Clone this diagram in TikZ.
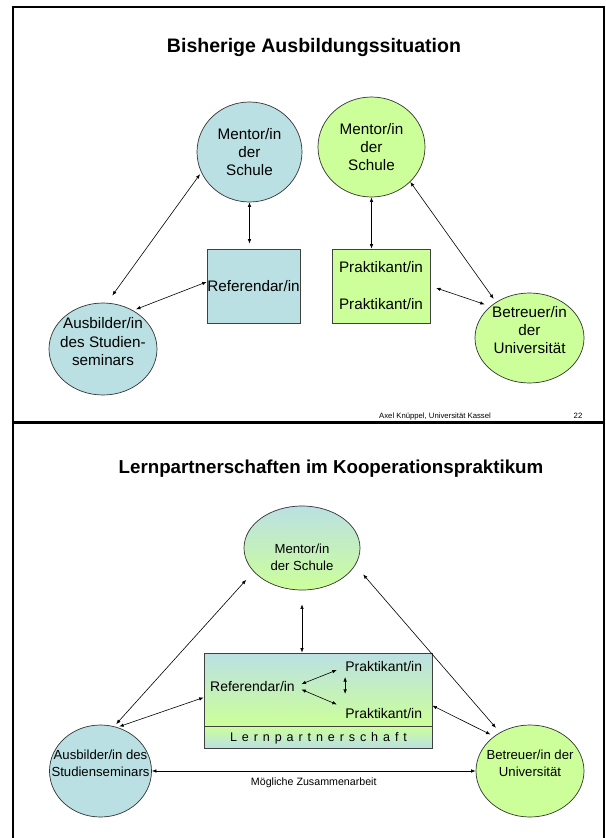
\documentclass[tikz,border=0pt]{standalone}
\usepackage{fontspec}
\setmainfont{Liberation Sans}
\usetikzlibrary{shapes.geometric,arrows.meta}
\definecolor{seminarblue}{RGB}{187,224,227}
\definecolor{unigreen}{RGB}{204,255,153}
\newcommand{\fs}[2]{\fontsize{#1}{#2}\selectfont}

\begin{document}
\begin{tikzpicture}[x=1bp,y=-1bp,
    >={Latex[length=4.5bp,width=3.5bp]},
    ball/.style={ellipse,draw=black!80,line width=0.7bp,inner sep=0pt},
    refbox/.style={rectangle,draw=black!75,line width=0.7bp,inner sep=0pt},
    bigtxt/.style={align=center,inner sep=0pt,font=\fs{15.3}{18.5}},
    smalltxt/.style={align=center,inner sep=0pt,font=\fs{13.2}{17}},
    boxtxt/.style={inner sep=0pt,font=\fs{14}{17}},
    slidetitle/.style={inner sep=0pt,font=\bfseries\fs{19.6}{23}}]

      \useasboundingbox (0,0) rectangle (606,838);

      \draw[line width=2bp] (13,838) |- (604,7) -- (604,838);
      \draw[line width=3.5bp] (13,422.5) -- (604,422.5);

      % Bisherige Ausbildungssituation
      \node[slidetitle] (title1) at (314,47) {Bisherige Ausbildungssituation};

      \begin{scope}[every node/.style={ball,fill=seminarblue}]
        \node (mentorA) at (249.5,152) [minimum width=105bp,minimum height=100bp,bigtxt] {Mentor/in\\der\\Schule};
        \node (ausA)    at (103,349)   [minimum width=108bp,minimum height=92bp] {};
      \end{scope}

      \begin{scope}[every node/.style={ball,fill=unigreen}]
        \node (mentorB) at (371.5,147) [minimum width=107bp,minimum height=100bp,bigtxt] {Mentor/in\\der\\Schule};
        \node (betA)    at (529.5,338) [minimum width=109bp,minimum height=90bp] {};
      \end{scope}

      \node[refbox,fill=seminarblue,minimum width=93bp,minimum height=74bp,bigtxt] (ref) at (253.5,286) {Referendar/in};
      \node[refbox,fill=unigreen,minimum width=98bp,minimum height=74bp,bigtxt] (prak) at (381,286) {Praktikant/in\\[18.5bp]Praktikant/in};

      \node[bigtxt] (ausAtext) at (103,341.7) {Ausbilder/in\\des Studien-\\seminars};
      \node[bigtxt] (betAtext) at (529.5,330) {Betreuer/in\\der\\Universität};

      \node[inner sep=0pt,font=\fs{7.75}{9}] (footer) at (435,416) {Axel Knüppel, Universität Kassel};
      \node[inner sep=0pt,font=\fs{7.75}{9}] (pagenum) at (578,416) {22};

      % Lernpartnerschaften im Kooperationspraktikum
      \node[slidetitle,font=\bfseries\fs{18.8}{22}] (title2) at (331,469) {Lernpartnerschaften im Kooperationspraktikum};

      \node[ball,top color=seminarblue,bottom color=unigreen,minimum width=116bp,minimum height=84bp] (mentorC) at (302,548) {};
      \node[ball,fill=seminarblue,minimum width=102bp,minimum height=92bp] (ausB) at (100.5,771) {};
      \node[ball,fill=unigreen,minimum width=108bp,minimum height=92bp] (betB) at (530,771) {};

      \node[smalltxt] (mentorCtext) at (302,557) {Mentor/in\\der Schule};
      \node[smalltxt] (ausBtext) at (100.5,763.5) {Ausbilder/in des\\Studienseminars};
      \node[smalltxt] (betBtext) at (530,763) {Betreuer/in der\\Universität};

      \node[refbox,top color=seminarblue,bottom color=unigreen,minimum width=228bp,minimum height=73bp] (lbox) at (318,689.5) {};
      \node[refbox,top color=unigreen,bottom color=seminarblue,minimum width=228bp,minimum height=22bp] (band) at (318,737) {};
      \node[inner sep=0pt,font=\fs{12.6}{15}] (lern) at (318.5,738) {\spaceskip=4.9bp\relax L e r n p a r t n e r s c h a f t};

      \node[boxtxt] (refB)  at (252.5,686.7) {Referendar/in};
      \node[boxtxt] (prak1) at (383.7,666.7) {Praktikant/in};
      \node[boxtxt] (prak2) at (383.7,713.3) {Praktikant/in};

      \begin{scope}[every edge/.style={draw,<->,line width=0.6bp}]
        \path (ausA.85)      edge[shorten <=9bp,shorten >=2bp] (mentorA.203);
        \path (ausA.52)      edge[shorten <=3bp] (ref.175);
        \path (mentorA.south) edge[shorten >=5bp] (mentorA.south |- ref.north);
        \path (mentorB.south) edge (mentorB.south |- prak.north);
        \path (mentorB.-42)  edge[shorten >=4bp] (betA.133);
        \path (prak.east)    edge[shorten <=6bp,shorten >=6bp] (betA.141);

        \path (ausB.73)      edge[shorten <=3bp,shorten >=11bp] (mentorC.206);
        \path (ausB.69)      edge[shorten <=2bp] (lbox.184);
        \path (mentorC.south) edge[shorten <=14bp] (mentorC.south |- lbox.north);
        \path (mentorC.-18)  edge[shorten <=12bp,shorten >=6bp] (betB.128);
        \path (lbox.-8)      edge[shorten >=4bp] (betB.136);
        \path (ausB.east)    edge node[name=collab,midway,yshift=-11.7bp,inner sep=0pt,font=\fs{10.7}{13}] {Mögliche Zusammenarbeit} (betB.west);
        \path (refB.east)    edge[shorten <=7bp,shorten >=9bp] (prak1.west);
        \path (refB.east)    edge[shorten <=7bp,shorten >=9bp] (prak2.north west);
        \path (prak1.south west) edge[shorten <=5bp,shorten >=14bp] (prak2.north west);
      \end{scope}

    \end{tikzpicture}
\end{document}
